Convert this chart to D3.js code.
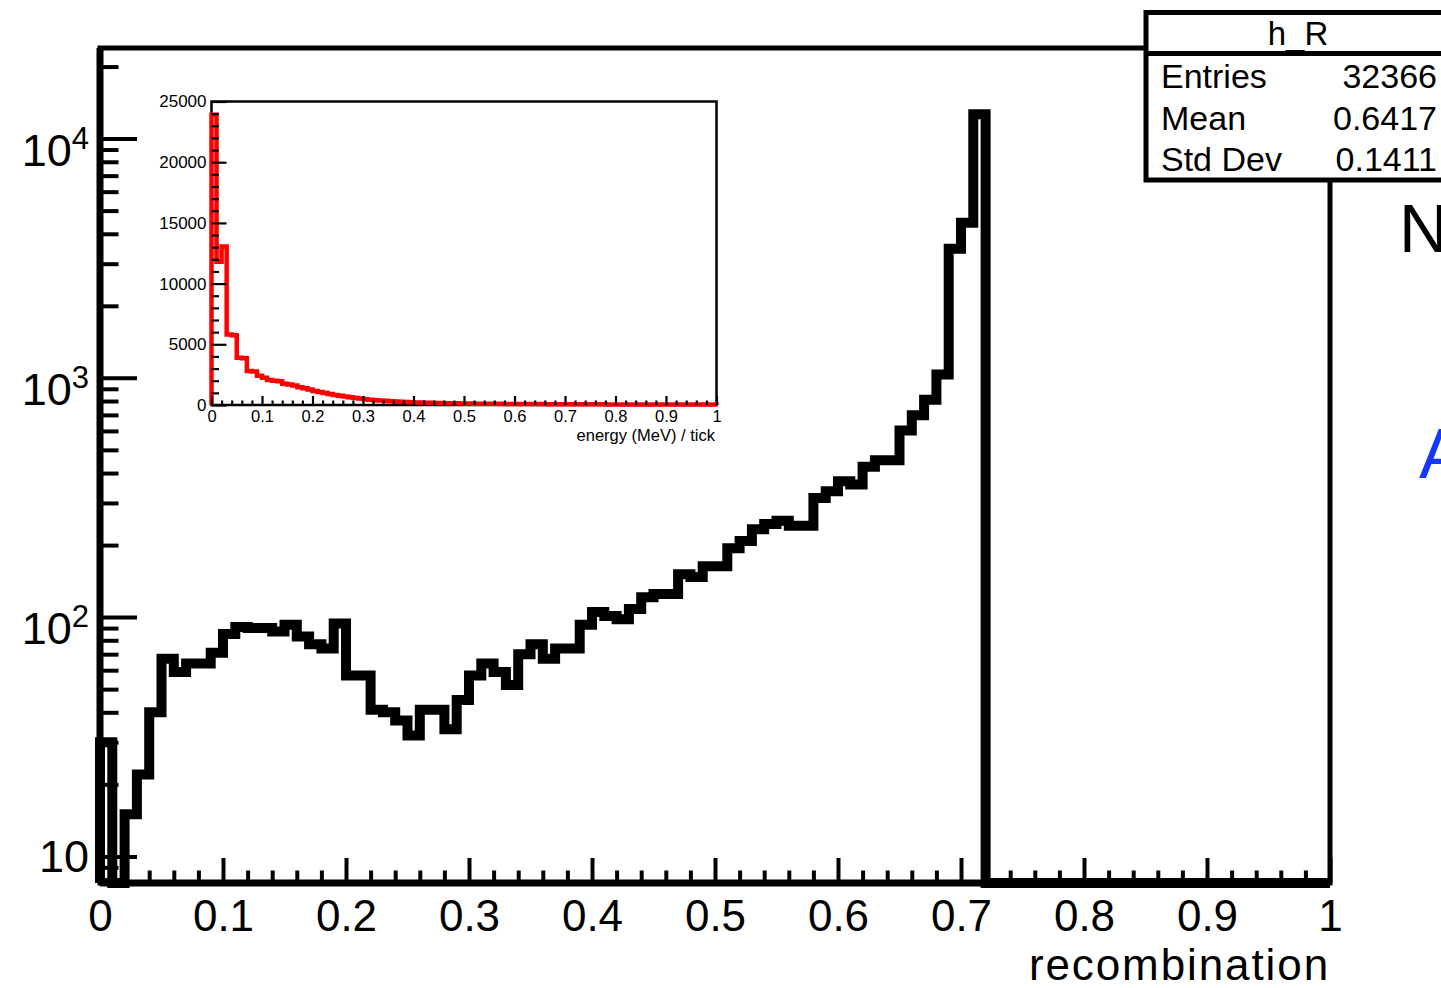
<!DOCTYPE html>
<html>
<head>
<meta charset="utf-8">
<script src="https://cdn.jsdelivr.net/npm/d3@7"></script>
<style>
  html, body { margin: 0; padding: 0; background: #fff; overflow: hidden; }
  svg { display: block; }
  text { font-family: "Liberation Sans", Arial, Helvetica, sans-serif; }
</style>
</head>
<body>
<svg id="chart" width="1441" height="988"></svg>
<script>
// ---- data: h_R (recombination), 100 bins on [0, 1] ----
const recombRange = [0, 1];
const recombCounts = [
  30, 0, 15, 22, 40, 67, 59, 64, 64, 71,
  85, 91, 90, 90, 87, 93, 83, 77, 74, 94,
  57, 57, 41, 40, 37, 32, 41, 41, 34, 45,
  57, 64, 59, 52, 70, 77, 67, 74, 74, 93,
  105, 101, 98, 108, 121, 125, 125, 151, 147, 163,
  163, 194, 208, 233, 245, 253, 241, 241, 315, 336,
  370, 358, 425, 452, 452, 602, 698, 810, 1032, 3465,
  4450, 12640, 0, 0, 0, 0, 0, 0, 0, 0,
  0, 0, 0, 0, 0, 0, 0, 0, 0, 0,
  0, 0, 0, 0, 0, 0, 0, 0, 0, 0
];
const recombYRange = [7.74, 23910];
const recombXTicks = [0, 0.1, 0.2, 0.3, 0.4, 0.5, 0.6, 0.7, 0.8, 0.9, 1];
const recombXTickLabels = ["0", "0.1", "0.2", "0.3", "0.4", "0.5", "0.6", "0.7", "0.8", "0.9", "1"];
const recombYTicks = [10, 100, 1000, 10000];
const recombYTickExponents = [1, 2, 3, 4];
const recombXTitle = "recombination";

// ---- data: energy per tick, 100 bins on [0, 1] ----
const energyRange = [0, 1];
const energyCounts = [
  23900, 11800, 13050, 5800, 5750, 3900, 3850, 2800, 2750, 2400,
  2250, 2050, 2000, 1950, 1750, 1680, 1600, 1460, 1390, 1270,
  1160, 1070, 990, 900, 830, 770, 700, 640, 580, 530,
  480, 440, 400, 370, 340, 310, 285, 265, 245, 225,
  210, 198, 185, 176, 165, 156, 148, 141, 134, 129,
  122, 118, 112, 109, 104, 101, 97, 94, 90, 88,
  84, 82, 79, 77, 74, 73, 70, 69, 66, 65,
  62, 61, 59, 58, 56, 55, 54, 53, 51, 50,
  49, 48, 47, 46, 45, 44, 43, 43, 41, 40,
  40, 39, 38, 37, 37, 36, 35, 35, 34, 33
];
const energyYRange = [0, 25000];
const energyXTicks = [0, 0.1, 0.2, 0.3, 0.4, 0.5, 0.6, 0.7, 0.8, 0.9, 1];
const energyXTickLabels = ["0", "0.1", "0.2", "0.3", "0.4", "0.5", "0.6", "0.7", "0.8", "0.9", "1"];
const energyYTicks = [0, 5000, 10000, 15000, 20000, 25000];
const energyYTickLabels = ["0", "5000", "10000", "15000", "20000", "25000"];
const energyXTitle = "energy (MeV) / tick";

// ---- statistics box ----
const statsTitle = "h_R";
const statsNames = ["Entries", "Mean", "Std Dev"];
const statsValues = ["32366", "0.6417", "0.1411"];

// ---- side text ----
const sideTexts = ["N", "A"];

const svg = d3.select("#chart");
svg.append("rect").attr("width", 1441).attr("height", 988).attr("fill", "#fff");

// Step outline of a histogram: starts and ends on the lower edge of the frame.
function histPoints(counts, range) {
  const n = counts.length;
  const w = (range[1] - range[0]) / n;
  const pts = [[range[0], null]];
  counts.forEach((c, i) => {
    pts.push([range[0] + i * w, c]);
    pts.push([range[0] + (i + 1) * w, c]);
  });
  pts.push([range[1], null]);
  return pts;
}

// ================= main pad =================
const frame = { left: 100, right: 1330, top: 48, bottom: 883 };
const x = d3.scaleLinear().domain(recombRange).range([frame.left, frame.right]);
const y = d3.scaleLog().domain(recombYRange).range([frame.bottom, frame.top]);

const main = svg.append("g");

main.append("rect")
  .attr("x", frame.left).attr("y", frame.top)
  .attr("width", frame.right - frame.left).attr("height", frame.bottom - frame.top)
  .attr("fill", "none").attr("stroke", "#000").attr("stroke-width", 5);

const yMain = v => (v == null || v <= recombYRange[0]) ? frame.bottom : y(v);
main.append("path")
  .datum(histPoints(recombCounts, recombRange))
  .attr("d", d3.line().x(d => x(d[0])).y(d => yMain(d[1])))
  .attr("fill", "none").attr("stroke", "#000").attr("stroke-width", 10)
  .attr("stroke-linejoin", "miter").attr("stroke-linecap", "butt");

// x axis: major ticks every 0.1, minor every 0.02, drawn inward
const xMinor = d3.range(0, 51).map(i => i / 50).filter(v => Math.round(v * 50) % 5 !== 0);
const xAxisMajor = d3.axisBottom(x).tickValues(recombXTicks)
  .tickSize(-25).tickSizeOuter(0).tickPadding(17)
  .tickFormat((d, i) => recombXTickLabels[i]);
const xAxisMinor = d3.axisBottom(x).tickValues(xMinor).tickSize(-12.5).tickSizeOuter(0).tickFormat("");

const gx = main.append("g").attr("transform", `translate(0,${frame.bottom})`);
gx.call(xAxisMajor);
gx.append("g").call(xAxisMinor);
gx.selectAll(".domain").remove();
gx.selectAll("line").attr("stroke", "#000").attr("stroke-width", 4);
gx.selectAll("text").attr("font-size", 44).attr("fill", "#000")
  .attr("font-family", "'Liberation Sans', Arial, sans-serif");

// y axis: decades with minor ticks at 2..9
const yMinor = [];
[1, 10, 100, 1000, 10000].forEach(dec => {
  for (let m = 1; m <= 9; m++) {
    const v = dec * m;
    if (m > 1 && v >= recombYRange[0] && v <= recombYRange[1]) yMinor.push(v);
  }
});
const gy = main.append("g").attr("transform", `translate(${frame.left},0)`);
gy.call(d3.axisLeft(y).tickValues(recombYTicks).tickSize(-37).tickSizeOuter(0).tickFormat(""));
gy.append("g").call(d3.axisLeft(y).tickValues(yMinor).tickSize(-18.5).tickSizeOuter(0).tickFormat(""));
gy.selectAll(".domain").remove();
gy.selectAll("line").attr("stroke", "#000").attr("stroke-width", 4);

// axis lines on left and bottom
main.append("line").attr("x1", frame.left).attr("x2", frame.left)
  .attr("y1", frame.top).attr("y2", frame.bottom).attr("stroke", "#000").attr("stroke-width", 7);
main.append("line").attr("x1", frame.left).attr("x2", frame.right)
  .attr("y1", frame.bottom).attr("y2", frame.bottom).attr("stroke", "#000").attr("stroke-width", 7);

// y labels: 10, 10^2, 10^3, 10^4
recombYTicks.forEach((v, i) => {
  const e = recombYTickExponents[i];
  const t = main.append("text")
    .attr("x", 89).attr("text-anchor", "end")
    .attr("font-size", 45).attr("fill", "#000");
  if (e === 1) {
    t.attr("y", y(v) + 16).text("10");
  } else {
    t.attr("y", y(v) + 27);
    t.append("tspan").text("10");
    t.append("tspan").attr("font-size", 31).attr("dy", -17).text(String(e));
  }
});

main.append("text")
  .attr("x", frame.right).attr("y", 980).attr("text-anchor", "end")
  .attr("font-size", 44).attr("letter-spacing", 1.9).attr("fill", "#000").text(recombXTitle);

// ================= inset pad =================
const inset = { left: 211.5, right: 716.5, top: 101.5, bottom: 405 };
const xi = d3.scaleLinear().domain(energyRange).range([inset.left, inset.right]);
const yi = d3.scaleLinear().domain(energyYRange).range([inset.bottom, inset.top]);
const ins = svg.append("g");

ins.append("rect")
  .attr("x", inset.left).attr("y", inset.top)
  .attr("width", inset.right - inset.left).attr("height", inset.bottom - inset.top)
  .attr("fill", "#fff").attr("stroke", "#000").attr("stroke-width", 2.5);

ins.append("path")
  .datum(histPoints(energyCounts, energyRange))
  .attr("d", d3.line().x(d => xi(d[0])).y(d => d[1] == null ? inset.bottom : yi(d[1])))
  .attr("fill", "none").attr("stroke", "#ff0000").attr("stroke-width", 4.5)
  .attr("stroke-linejoin", "miter");

const xiMinor = d3.range(0, 51).map(i => i / 50).filter(v => Math.round(v * 50) % 5 !== 0);
const gxi = ins.append("g").attr("transform", `translate(0,${inset.bottom})`);
gxi.call(d3.axisBottom(xi).tickValues(energyXTicks).tickSize(-9).tickSizeOuter(0)
  .tickPadding(5).tickFormat((d, i) => energyXTickLabels[i]));
gxi.append("g").call(d3.axisBottom(xi).tickValues(xiMinor).tickSize(-4.5).tickSizeOuter(0).tickFormat(""));
gxi.selectAll(".domain").remove();
gxi.selectAll("line").attr("stroke", "#000").attr("stroke-width", 2.2);
gxi.selectAll("text").attr("font-size", 16.5).attr("fill", "#000")
  .attr("font-family", "'Liberation Sans', Arial, sans-serif");

const yiMinor = d3.range(0, 26).map(i => i * 1000).filter(v => v % 5000 !== 0);
const gyi = ins.append("g").attr("transform", `translate(${inset.left},0)`);
gyi.call(d3.axisLeft(yi).tickValues(energyYTicks).tickSize(-15).tickSizeOuter(0)
  .tickPadding(5).tickFormat((d, i) => energyYTickLabels[i]));
gyi.append("g").call(d3.axisLeft(yi).tickValues(yiMinor).tickSize(-7.5).tickSizeOuter(0).tickFormat(""));
gyi.selectAll(".domain").remove();
gyi.selectAll("line").attr("stroke", "#000").attr("stroke-width", 2.2);
gyi.selectAll("text").attr("font-size", 17).attr("fill", "#000")
  .attr("font-family", "'Liberation Sans', Arial, sans-serif");

ins.append("text")
  .attr("x", 715).attr("y", 441).attr("text-anchor", "end")
  .attr("font-size", 16.5).attr("fill", "#000").text(energyXTitle);

// ================= statistics box =================
const box = { left: 1146, top: 12.5, right: 1450, bottom: 180, sep: 53.5 };
const st = svg.append("g");
st.append("rect")
  .attr("x", box.left).attr("y", box.top)
  .attr("width", box.right - box.left).attr("height", box.bottom - box.top)
  .attr("fill", "#fff").attr("stroke", "#000").attr("stroke-width", 5);
st.append("line").attr("x1", box.left).attr("x2", box.right)
  .attr("y1", box.sep).attr("y2", box.sep).attr("stroke", "#000").attr("stroke-width", 5);
st.append("text")
  .attr("x", 1298).attr("y", 45).attr("text-anchor", "middle")
  .attr("font-size", 33).attr("fill", "#000").text(statsTitle);
const rowBase = [88, 130, 171];
statsNames.forEach((nm, i) => {
  st.append("text").attr("x", 1161).attr("y", rowBase[i])
    .attr("font-size", 34).attr("fill", "#000").text(nm);
  st.append("text").attr("x", 1437).attr("y", rowBase[i]).attr("text-anchor", "end")
    .attr("font-size", 34).attr("fill", "#000").text(statsValues[i]);
});

// ================= side text =================
svg.append("text").attr("x", 1399).attr("y", 252)
  .attr("font-size", 68).attr("fill", "#000").text(sideTexts[0]);
svg.append("text").attr("x", 1419).attr("y", 478)
  .attr("font-size", 70).attr("fill", "#1438ff").text(sideTexts[1]);
</script>
</body>
</html>
